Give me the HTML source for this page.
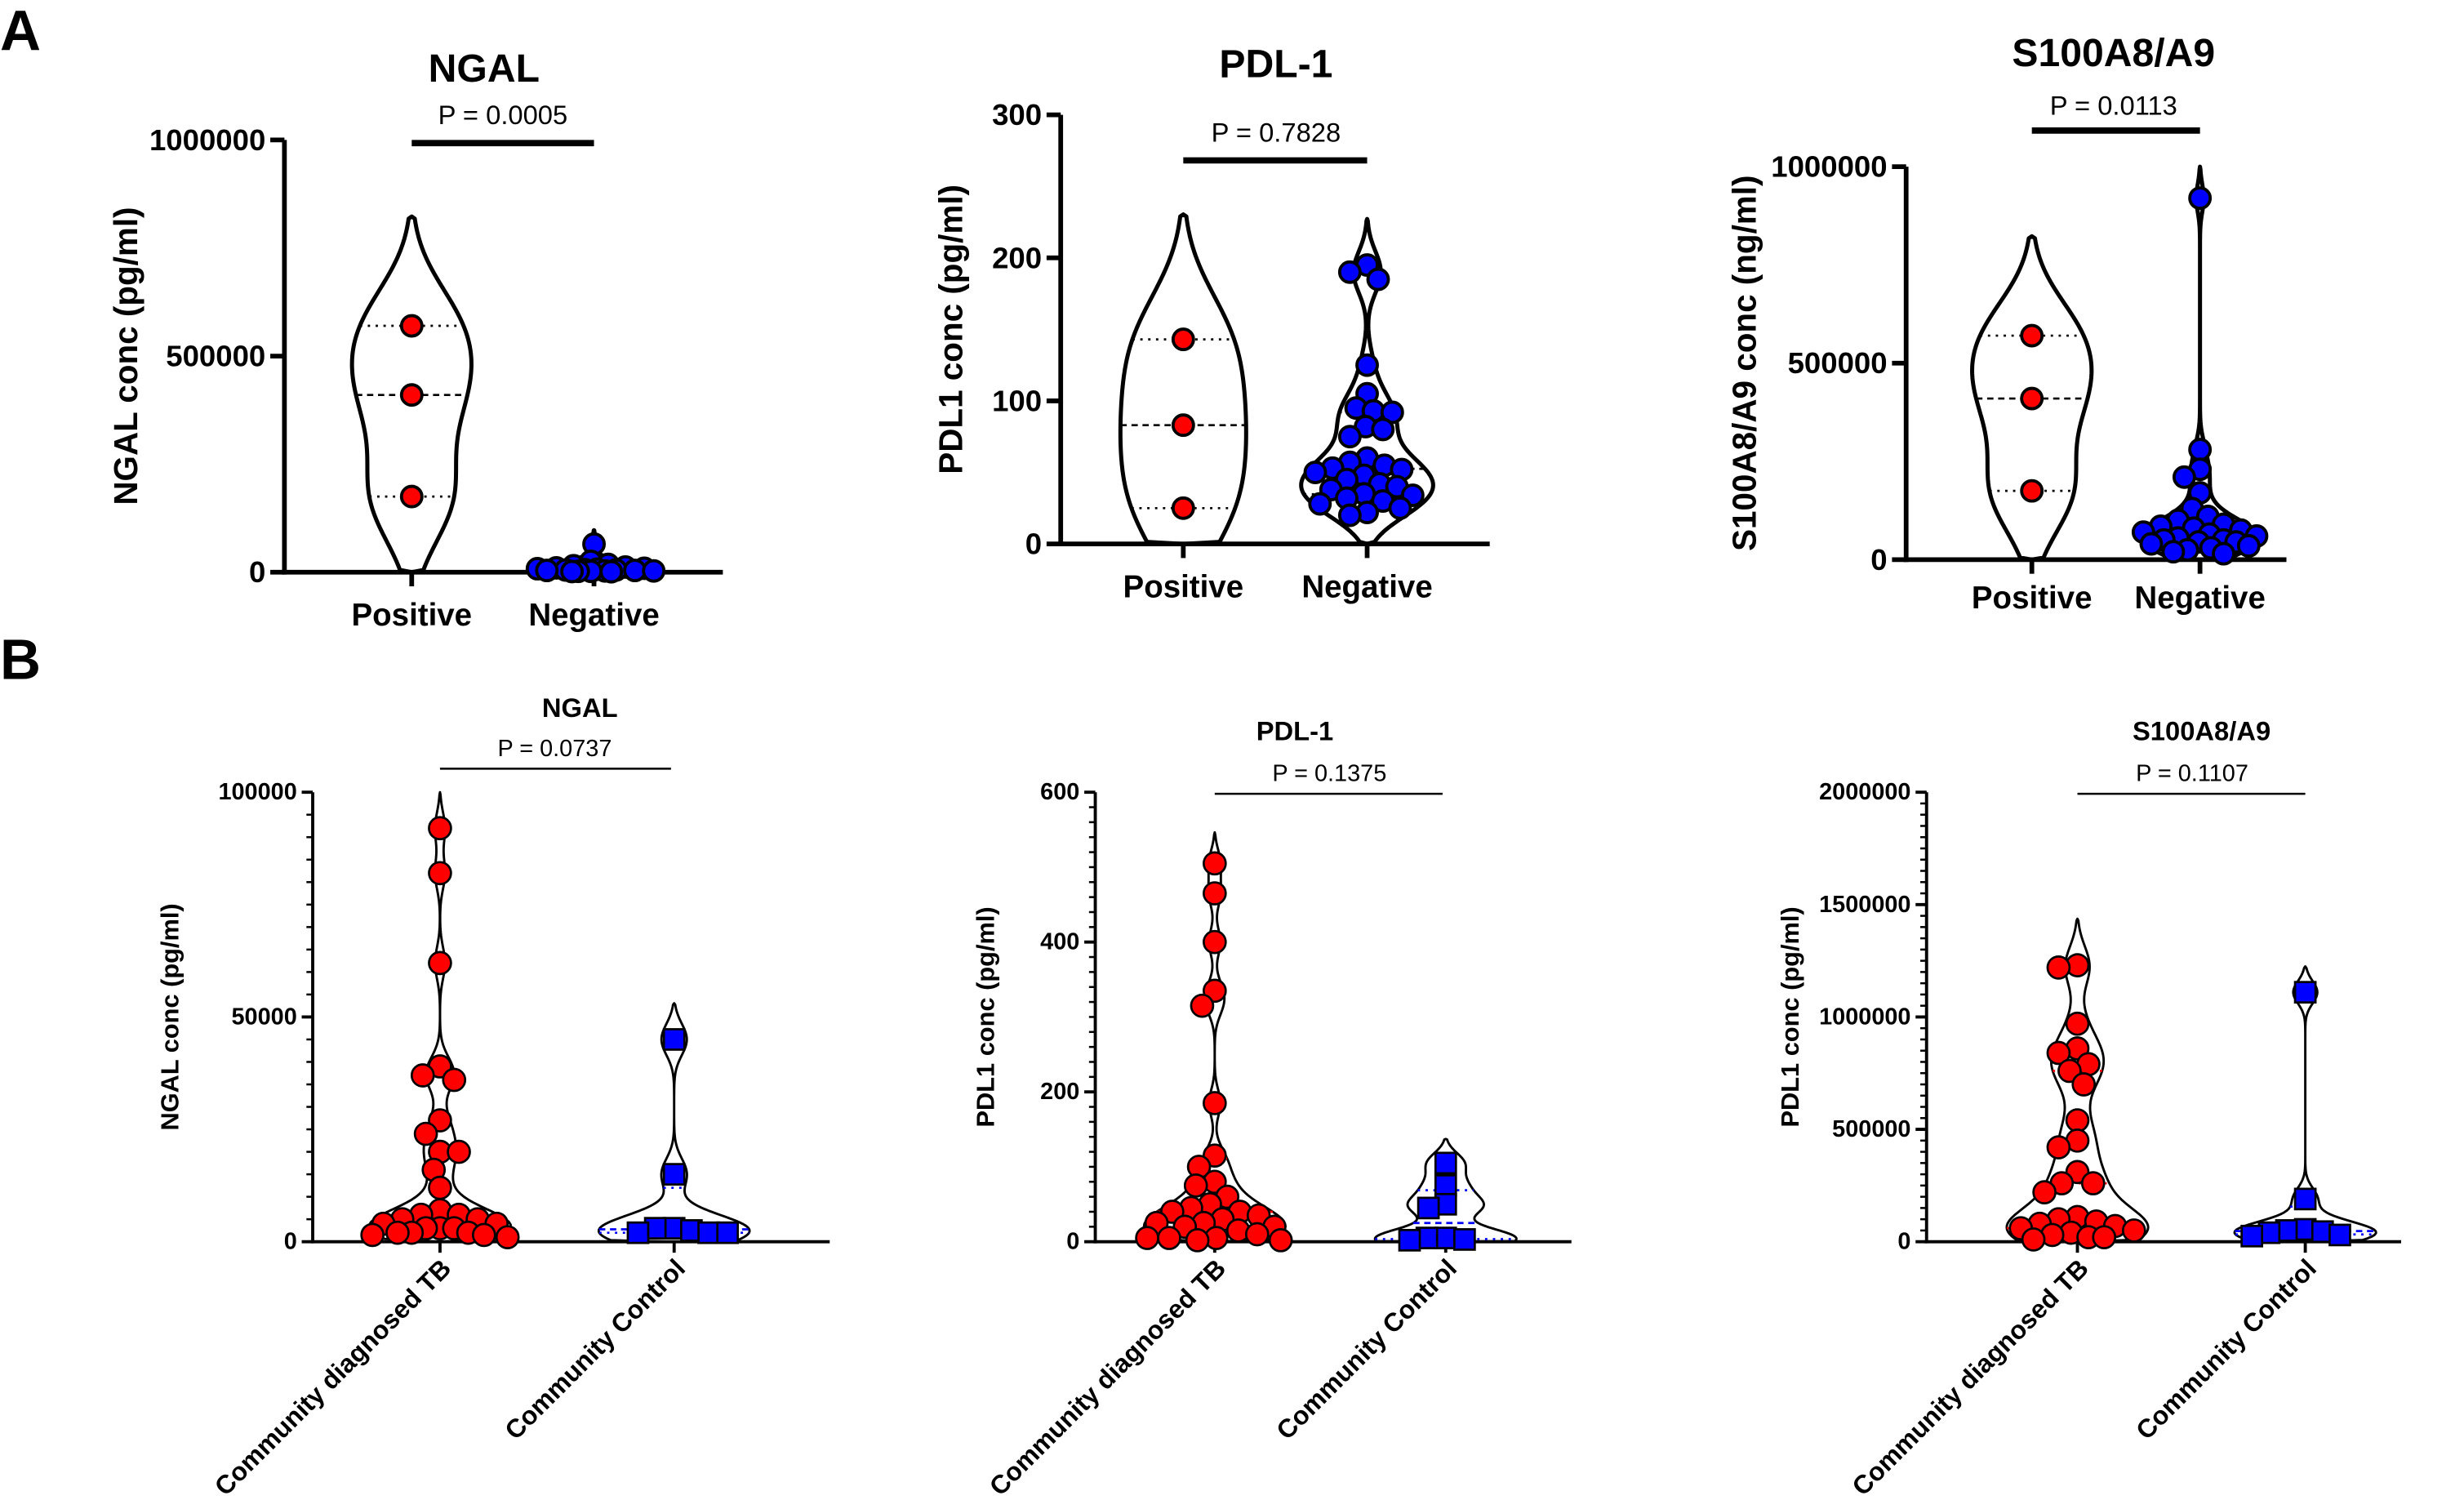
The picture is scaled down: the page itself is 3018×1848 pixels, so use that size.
<!DOCTYPE html>
<html><head><meta charset="utf-8"><style>
html,body{margin:0;padding:0;background:#fff;}
svg{display:block;font-family:"Liberation Sans",Arial,sans-serif;}
</style></head><body>
<svg id="fig" width="3018" height="1848" viewBox="0 0 1568 960" xmlns="http://www.w3.org/2000/svg">
<text x="0" y="32" font-size="36" font-weight="bold">A</text>
<text x="0" y="432" font-size="36" font-weight="bold">B</text>
</svg>
<script>
// ---- data ----
const catsA = ["Positive", "Negative"];
const catsB = ["Community diagnosed TB", "Community Control"];
const a1Pos = [570000, 410000, 175000];
const a1Neg = [65000, 25000, 18000, 15000, 12000, 10000, 9000, 8000, 7000, 6000, 5000, 5000, 4000, 4000, 3000, 3000, 2000, 2000, 1500, 1000];
const a2Pos = [143, 83, 25];
const a2Neg = [195, 190, 185, 125, 105, 95, 93, 92, 82, 80, 75, 60, 57, 55, 53, 52, 50, 48, 45, 42, 40, 38, 35, 34, 32, 30, 28, 25, 22, 20];
const a3Pos = [570000, 410000, 175000];
const a3Neg = [920000, 280000, 230000, 210000, 170000, 130000, 110000, 100000, 90000, 85000, 80000, 75000, 70000, 65000, 60000, 55000, 50000, 50000, 45000, 45000, 40000, 35000, 30000, 25000, 20000, 15000];
const b1TB = [92000, 82000, 62000, 39000, 37000, 36000, 27000, 24000, 20000, 20000, 16000, 12000, 7000, 6000, 6000, 5000, 5000, 4000, 4000, 3000, 3000, 3000, 2000, 2000, 2000, 1500, 1500, 1000];
const b1Ctrl = [45000, 15000, 3000, 3000, 2500, 2000, 2000, 2000];
const b2TB = [505, 465, 400, 335, 315, 185, 115, 100, 80, 75, 60, 50, 45, 40, 40, 35, 30, 25, 25, 20, 20, 15, 10, 5, 5, 5, 2, 2];
const b2Ctrl = [105, 75, 50, 45, 5, 5, 3, 2];
const b3TB = [1230000, 1220000, 970000, 860000, 840000, 790000, 760000, 700000, 540000, 450000, 420000, 310000, 260000, 260000, 220000, 110000, 100000, 90000, 80000, 70000, 60000, 50000, 40000, 30000, 20000, 20000, 10000];
const b3Ctrl = [1110000, 190000, 55000, 50000, 45000, 40000, 30000, 25000];
const ticksA1 = [0, 500000, 1000000];
const ticksA2 = [0, 100, 200, 300];
const ticksA3 = [0, 500000, 1000000];
const ticksB1 = [0, 50000, 100000];
const ticksB2 = [0, 200, 400, 600];
const ticksB3 = [0, 500000, 1000000, 1500000, 2000000];
const pValues = ["P = 0.0005", "P = 0.7828", "P = 0.0113", "P = 0.0737", "P = 0.1375", "P = 0.1107"];

const NS = "http://www.w3.org/2000/svg";
const svg = document.getElementById("fig");
function mk(tag, attrs, parent) {
  const e = document.createElementNS(NS, tag);
  for (const k in attrs) e.setAttribute(k, attrs[k]);
  (parent || svg).appendChild(e);
  return e;
}
function kde(data, bw, v) {
  let s = 0;
  for (const d of data) { const z = (v - d) / bw; s += Math.exp(-0.5 * z * z); }
  return s;
}
function quant(arr, p) {
  const s = [...arr].sort((a, b) => a - b);
  const pos = p * (s.length + 1) - 1;
  const lo = Math.max(0, Math.min(s.length - 1, Math.floor(pos)));
  const hi = Math.max(0, Math.min(s.length - 1, Math.ceil(pos)));
  return s[lo] + (s[hi] - s[lo]) * (pos - Math.floor(pos));
}

function panel(c) {
  const g = mk("g", {});
  
  
  const yS = v => c.yBot - (v / c.max) * (c.yBot - c.yTop);
  const big = c.style === "A";
  const axW = big ? 3 : 2;
  const t = mk("text", {x: c.titleX, y: c.titleY, "font-size": big ? 25 : 17, "font-weight": "bold", "text-anchor": "middle"}, g);
  t.textContent = c.title;
  
  
  const p = mk("text", {x: c.pX, y: c.pY, "font-size": big ? 17 : 15, "text-anchor": "middle"}, g);
  p.textContent = c.p;
  
  
  const br = mk("line", {x1: c.barX1, x2: c.barX2, y1: c.barY, y2: c.barY, stroke: "#000", "stroke-width": big ? 4 : 1.3}, g);
  
  
  const yl = mk("text", {x: 0, y: 0, "font-size": big ? 21 : 16, "font-weight": "bold", "text-anchor": "middle", "dominant-baseline": "central", transform: `translate(${c.ylX},${(c.yTop + c.yBot) / 2}) rotate(-90)`}, g);
  yl.textContent = c.ylabel;
  
  
  const ya = mk("line", {x1: c.x0, x2: c.x0, y1: c.yTop, y2: c.yBot + axW / 2, stroke: "#000", "stroke-width": axW}, g);
  
  
  const xa = mk("line", {x1: c.x0 - axW / 2, x2: c.x1, y1: c.yBot, y2: c.yBot, stroke: "#000", "stroke-width": axW}, g);
  
  
  if (c.minor) {
    for (let v = 0; v <= c.max + 1e-9; v += c.minor) {
      const m = mk("line", {x1: c.x0 - 4, x2: c.x0, y1: yS(v), y2: yS(v), stroke: "#000", "stroke-width": 1.3}, g);
      
      
    }
  }
  for (const v of c.ticks) {
    const tk = mk("line", {x1: c.x0 - (big ? 9 : 7), x2: c.x0, y1: yS(v), y2: yS(v), stroke: "#000", "stroke-width": axW}, g);
    
    
    const tl = mk("text", {x: c.x0 - (big ? 12 : 10), y: yS(v), "font-size": big ? 19 : 15, "font-weight": "bold", "text-anchor": "end", "dominant-baseline": "central"}, g);
    tl.textContent = String(v);
    
    
  }
  c.groups.forEach((grp, i) => {
    const cx = c.cats[i];
    const tk = mk("line", {x1: cx, x2: cx, y1: c.yBot, y2: c.yBot + (big ? 9 : 7), stroke: "#000", "stroke-width": axW}, g);
    
    
    let cl;
    if (big) {
      cl = mk("text", {x: cx, y: c.catY, "font-size": 20, "font-weight": "bold", "text-anchor": "middle"}, g);
    } else {
      cl = mk("text", {x: 0, y: 0, "font-size": 16.5, "font-weight": "bold", "text-anchor": "end", transform: `translate(${cx + 8},${c.yBot + 18}) rotate(-45)`}, g);
    }
    cl.textContent = c.catNames[i];
    
    
    const data = grp.data, bw = grp.bw;
    const mn = Math.min(...data), mx = Math.max(...data);
    const lo = Math.max(0, mn - 2.3 * bw), hi = Math.min(c.max * 1.0, mx + 2.3 * bw);
    const N = 160;
    let dmax = 0;
    for (let k = 0; k <= N; k++) dmax = Math.max(dmax, kde(data, bw, lo + (hi - lo) * k / N));
    const hw = v => kde(data, bw, v) / dmax * grp.w;
    let right = [], left = [];
    for (let k = 0; k <= N; k++) {
      const v = lo + (hi - lo) * k / N;
      const w = (k === 0 || k === N) ? 0 : hw(v);
      right.push(`${(cx + w).toFixed(2)},${yS(v).toFixed(2)}`);
      left.unshift(`${(cx - w).toFixed(2)},${yS(v).toFixed(2)}`);
    }
    const vp = mk("path", {d: "M" + right.join("L") + "L" + left.join("L") + "Z", fill: "none", stroke: "#000", "stroke-width": big ? 2.6 : 1.5, "stroke-linejoin": "round"}, g);
    
    
    const lineCol = big ? "#000" : grp.color;
    [[0.25, "1.5,3.5"], [0.5, "4,3"], [0.75, "1.5,3.5"]].forEach(([q, dash]) => {
      const v = quant(data, q), w = hw(v);
      const ql = mk("line", {x1: cx - w, x2: cx + w, y1: yS(v), y2: yS(v), stroke: lineCol, "stroke-width": 1.4, "stroke-dasharray": dash}, g);
      
      
    });
    // beeswarm points, limited to violin width, overlap allowed when crowded
    const r = grp.r;
    const lim = grp.w - 2;
    const minD = 2 * r * 0.85;
    const placed = [];
    [...data].sort((a, b) => b - a).forEach(v => {
      const y = yS(v);
      let best = 0, bestD = -1;
      for (let s = 0; s <= 2 * lim; s++) {
        const cand = (s % 2 === 0 ? 1 : -1) * Math.ceil(s / 2);
        let d = Infinity;
        for (const pp of placed) d = Math.min(d, Math.hypot(pp[0] - (cx + cand), pp[1] - y));
        if (d >= minD) { best = cand; bestD = d; break; }
        if (d > bestD + 0.5) { bestD = d; best = cand; }
      }
      placed.push([cx + best, y]);
      let m;
      if (grp.shape === "square") {
        m = mk("rect", {x: cx + best - r, y: y - r, width: 2 * r, height: 2 * r, fill: grp.color, stroke: "#000", "stroke-width": 1.4}, g);
      } else {
        m = mk("circle", {cx: cx + best, cy: y, r: r, fill: grp.color, stroke: "#000", "stroke-width": big ? 2 : 1.4}, g);
      }
      
      
    });
  });
}

panel({name: "panel-a-ngal", style: "A", title: "NGAL", titleX: 308, titleY: 52, p: pValues[0], pX: 320, pY: 79, barX1: 262, barX2: 378, barY: 91,
  ylabel: "NGAL conc (pg/ml)", ylX: 80, x0: 181, x1: 460, yTop: 89, yBot: 364, max: 1000000, ticks: ticksA1, cats: [262, 378], catNames: catsA, catY: 398,
  groups: [{key: "positive", data: a1Pos, bw: 110000, w: 38, r: 6.5, color: "#ff0000"}, {key: "negative", data: a1Neg, bw: 14000, w: 40, r: 6.5, color: "#0000ff"}]});
panel({name: "panel-a-pdl1", style: "A", title: "PDL-1", titleX: 812, titleY: 49, p: pValues[1], pX: 812, pY: 90, barX1: 753, barX2: 870, barY: 102,
  ylabel: "PDL1 conc (pg/ml)", ylX: 605, x0: 675, x1: 948, yTop: 73, yBot: 346, max: 300, ticks: ticksA2, cats: [753, 870], catNames: catsA, catY: 380,
  groups: [{key: "positive", data: a2Pos, bw: 38, w: 40, r: 6.5, color: "#ff0000"}, {key: "negative", data: a2Neg, bw: 14, w: 42, r: 6.5, color: "#0000ff"}]});
panel({name: "panel-a-s100", style: "A", title: "S100A8/A9", titleX: 1345, titleY: 42, p: pValues[2], pX: 1345, pY: 73, barX1: 1293, barX2: 1400, barY: 83,
  ylabel: "S100A8/A9 conc (ng/ml)", ylX: 1110, x0: 1213, x1: 1455, yTop: 106, yBot: 356, max: 1000000, ticks: ticksA3, cats: [1293, 1400], catNames: catsA, catY: 387,
  groups: [{key: "positive", data: a3Pos, bw: 110000, w: 38, r: 6.5, color: "#ff0000"}, {key: "negative", data: a3Neg, bw: 35000, w: 38, r: 6.5, color: "#0000ff"}]});
panel({name: "panel-b-ngal", style: "B", title: "NGAL", titleX: 369, titleY: 456, p: pValues[3], pX: 353, pY: 481, barX1: 280, barX2: 427, barY: 489,
  ylabel: "NGAL conc (pg/ml)", ylX: 108, x0: 199, x1: 528, yTop: 504, yBot: 790, max: 100000, ticks: ticksB1, minor: 5000, cats: [280, 429], catNames: catsB,
  groups: [{key: "community-tb", data: b1TB, bw: 3500, w: 45, r: 7, color: "#ff0000"}, {key: "community-control", data: b1Ctrl, bw: 3500, w: 48, r: 6.5, color: "#0000ff", shape: "square"}]});
panel({name: "panel-b-pdl1", style: "B", title: "PDL-1", titleX: 824, titleY: 471, p: pValues[4], pX: 846, pY: 497, barX1: 773, barX2: 918, barY: 505,
  ylabel: "PDL1 conc (pg/ml)", ylX: 627, x0: 697, x1: 1000, yTop: 504, yBot: 790, max: 600, ticks: ticksB2, minor: 20, cats: [773, 920], catNames: catsB,
  groups: [{key: "community-tb", data: b2TB, bw: 18, w: 45, r: 7, color: "#ff0000"}, {key: "community-control", data: b2Ctrl, bw: 14, w: 45, r: 6.5, color: "#0000ff", shape: "square"}]});
panel({name: "panel-b-s100", style: "B", title: "S100A8/A9", titleX: 1401, titleY: 471, p: pValues[5], pX: 1395, pY: 497, barX1: 1322, barX2: 1467, barY: 505,
  ylabel: "PDL1 conc (pg/ml)", ylX: 1139, x0: 1226, x1: 1528, yTop: 504, yBot: 790, max: 2000000, ticks: ticksB3, minor: 50000, cats: [1322, 1467], catNames: catsB,
  groups: [{key: "community-tb", data: b3TB, bw: 90000, w: 45, r: 7, color: "#ff0000"}, {key: "community-control", data: b3Ctrl, bw: 50000, w: 45, r: 6.5, color: "#0000ff", shape: "square"}]});
</script>
</body></html>
